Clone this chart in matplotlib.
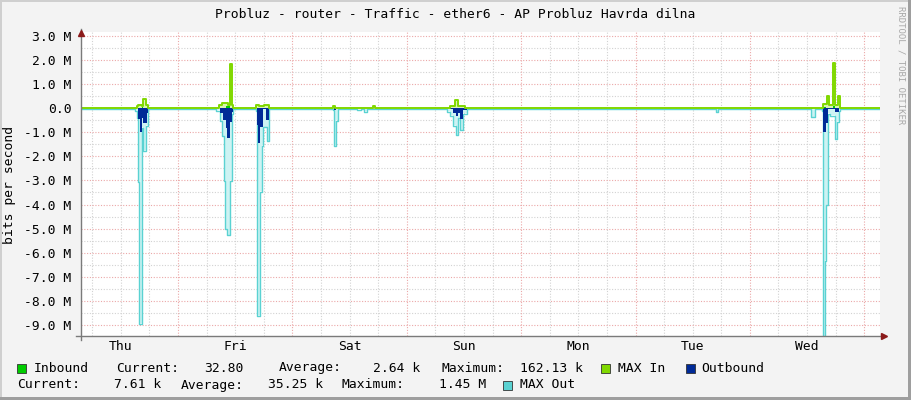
import matplotlib
matplotlib.use('Agg')
import matplotlib.pyplot as plt
import numpy as np
from matplotlib.patches import Rectangle
from matplotlib.lines import Line2D

W, H = 911, 400
MONO = 'DejaVu Sans Mono'

# ---------------- data ----------------
# time axis: hours since Thursday 00:00 ; values in Mbit/s (outbound negative)
t_start, t_end = 3.65, 171.3
day_names = ['Thu', 'Fri', 'Sat', 'Sun', 'Mon', 'Tue', 'Wed']
ytick_vals = [3, 2, 1, 0, -1, -2, -3, -4, -5, -6, -7, -8, -9]

max_out_t = [15.0, 15.31, 15.52, 15.8, 16.36, 16.7, 17.2, 17.62,
             32.0, 32.8, 33.15, 33.63, 33.84, 34.2, 34.89, 35.25, 35.52,
             40.45, 40.62, 41.18, 41.67, 41.87, 42.65, 43.2,
             56.5, 56.77, 57.06, 57.61,
             61.47, 62.37, 63.06, 63.57,
             80.35, 81.04, 81.74, 82.3, 82.66, 83.14, 83.83, 84.55,
             136.9, 137.4,
             156.92, 157.61,
             159.1, 159.36, 159.85, 160.07, 160.45, 160.77, 161.82, 162.3, 162.72, 163.01]
max_out_v = [-0.1, -0.4, -3.05, -8.9, -0.8, -1.75, -0.7, 0,
             -0.1, -0.5, -1.15, -3.0, -5.0, -5.25, -3.0, -0.2, 0,
             -0.1, -8.57, -3.45, -1.53, -0.77, -1.35, 0,
             -0.05, -1.55, -0.5, 0,
             -0.05, 0, -0.12, 0,
             -0.12, -0.3, -0.7, -1.1, -0.4, -0.9, -0.2, 0,
             -0.15, 0,
             -0.36, 0,
             -0.1, -9.6, -6.3, -4.0, -0.2, -0.3, -1.25, -0.55, -0.1, 0]

outbound_t = [15.52, 16.01, 16.36, 16.7, 17.41, 17.75,
              32.79, 33.48, 34.05, 34.32, 34.89, 35.25, 35.45,
              40.62, 40.83, 41.18, 41.75, 42.44, 43.01,
              56.77, 57.06,
              81.04, 81.74, 82.3, 82.66, 83.14, 83.83, 84.55,
              156.92, 157.3,
              159.36, 159.93, 160.41, 161.82, 162.72]
outbound_v = [-0.45, -1.0, -0.4, -0.63, -0.2, 0,
              -0.22, -0.5, -0.84, -1.25, -0.57, -0.15, 0,
              -0.7, -1.46, -0.8, -0.05, -0.5, 0,
              -0.1, 0,
              -0.05, -0.2, -0.35, -0.2, -0.45, -0.1, 0,
              -0.05, 0,
              -0.98, -0.62, -0.05, -0.15, 0]

max_in_t = [15.31, 15.52, 16.36, 16.7, 17.2, 17.62,
            32.64, 33.15, 34.47, 34.89, 35.31, 35.58,
            40.4, 41.0, 42.0, 43.1,
            56.5, 57.0,
            64.83, 65.31,
            81.04, 82.1, 82.66, 84.3,
            159.36, 160.2, 160.62, 161.46, 161.88, 162.44, 163.01]
max_in_v = [0.05, 0.12, 0.05, 0.37, 0.1, 0,
            0.1, 0.2, 0.1, 1.81, 0.1, 0,
            0.1, 0.05, 0.1, 0,
            0.05, 0,
            0.06, 0,
            0.08, 0.3, 0.08, 0,
            0.15, 0.47, 0.1, 1.85, 0.1, 0.47, 0]

inbound_t = [16.36, 16.7, 34.05, 34.89, 159.36, 159.93, 161.46, 161.88]
inbound_v = [0.05, 0, 0.1, 0, 0.06, 0, 0.1, 0]

legend_row1 = [('sq', 17, '#00CC00'), ('l', 34, 'Inbound'), ('l', 116, 'Current:'),
               ('r', 244, '32.80'), ('l', 279, 'Average:'), ('r', 420, '2.64 k'),
               ('l', 441, 'Maximum:'), ('r', 583, '162.13 k'), ('sq', 601, '#80D800'),
               ('l', 618, 'MAX In'), ('sq', 686, '#002A97'), ('l', 701, 'Outbound')]
legend_row2 = [('l', 17, 'Current:'), ('r', 161, '7.61 k'), ('l', 181, 'Average:'),
               ('r', 323, '35.25 k'), ('l', 342, 'Maximum:'), ('r', 486, '1.45 M'),
               ('sq', 503, '#5AD2D2'), ('l', 520, 'MAX Out')]

# ---------------- colours ----------------
C_IN = '#00CC00'
C_MAXIN = '#80D800'
C_MAXIN_FILL = '#D8F4B0'
C_OUT = '#002A97'
C_MAXOUT = '#5AD2D2'
C_MAXOUT_FILL = '#CDF3F3'

# ---------------- figure ----------------
fig = plt.figure(figsize=(W / 100, H / 100), dpi=100)
fig.patch.set_facecolor('#F3F3F3')


def fx(x):
    return x / W


def fy(y):
    return 1 - y / H


plot_top, plot_bot, plot_l, plot_r = 32, 336, 81, 880
zero_px = 108
px_per_M = 24.14
y_top = (zero_px - plot_top) / px_per_M
y_bot = -(plot_bot - zero_px) / px_per_M

ax = fig.add_axes([fx(plot_l), fy(plot_bot), (plot_r - plot_l) / W, (plot_bot - plot_top) / H])
ax.set_facecolor('white')
ax.set_xlim(t_start, t_end)
ax.set_ylim(y_bot, y_top)
for s in ax.spines.values():
    s.set_visible(False)

# grid
for v in np.arange(-9.0, 3.5, 0.5):
    if abs(v - round(v)) < 1e-6:
        ax.axhline(v, color='#EBA8A8', lw=0.8, dashes=(1, 1.5), zorder=0.5)
    else:
        ax.axhline(v, color='#D2D2D2', lw=0.8, dashes=(1, 1.5), zorder=0.4)
for h in range(6, 174, 6):
    if h % 24 == 0:
        ax.axvline(h, color='#EBA8A8', lw=0.8, dashes=(1, 1.5), zorder=0.5)
    else:
        ax.axvline(h, color='#D2D2D2', lw=0.8, dashes=(1, 1.5), zorder=0.4)


def series(ts, vs):
    t = np.concatenate([[t_start], np.asarray(ts, float), [t_end]])
    v = np.concatenate([[0.0], np.asarray(vs, float), [0.0]])
    return t, v


t, v = series(max_out_t, max_out_v)
ax.fill_between(t, v, 0, step='post', color=C_MAXOUT_FILL, lw=0, zorder=1)
ax.step(t, v - 0.03, where='post', color=C_MAXOUT, lw=1.0, zorder=2)

t, v = series(outbound_t, outbound_v)
ax.fill_between(t, v, 0, step='post', color=C_OUT, lw=0, zorder=3)

t, v = series(max_in_t, max_in_v)
ax.fill_between(t, v, 0, step='post', color=C_MAXIN_FILL, lw=0, zorder=3)

t2, v2 = series(inbound_t, inbound_v)
ax.fill_between(t2, v2, 0, step='post', color=C_IN, lw=0, zorder=4)

ax.step(t, v + 0.02, where='post', color=C_MAXIN, lw=1.4, zorder=5)

# ticks
ax.set_yticks(ytick_vals)
ax.set_yticklabels([('%.1f M' % y) if y != 0 else '0.0' for y in ytick_vals],
                   family=MONO, fontsize=9.4)
ax.set_xticks([12 + 24 * k for k in range(len(day_names))])
ax.set_xticklabels(day_names, family=MONO, fontsize=9.4)
ax.tick_params(axis='y', length=0, pad=7)
ax.tick_params(axis='x', length=0, pad=3)

# axes lines and arrows
fig.add_artist(Line2D([fx(plot_l), fx(plot_l)], [fy(340), fy(29)], color='#7A7A7A', lw=1.0))
fig.add_artist(Line2D([fx(76), fx(884)], [fy(plot_bot), fy(plot_bot)], color='#7A7A7A', lw=1.0))
fig.add_artist(Line2D([fx(plot_l)], [fy(33)], marker='^', color='#8B1A1A', markersize=4.5, lw=0))
fig.add_artist(Line2D([fx(884)], [fy(plot_bot)], marker='>', color='#8B1A1A', markersize=4.5, lw=0))

# texts
fig.text(fx(455.5), fy(15), 'Probluz - router - Traffic - ether6 - AP Probluz Havrda dilna',
         ha='center', va='center', family=MONO, fontsize=9.4)
fig.text(fx(10), fy(185), 'bits per second', rotation=90, ha='center', va='center',
         family=MONO, fontsize=9.4)
fig.text(fx(901), fy(6), 'RRDTOOL / TOBI OETIKER', rotation=270, ha='center', va='top',
         family=MONO, fontsize=6.5, color='#A8A8A8')


def draw_row(items, y):
    for kind, x, val in items:
        if kind == 'sq':
            fig.add_artist(Rectangle((fx(x), fy(y + 4.5)), 9 / W, 9 / H, facecolor=val,
                                     edgecolor='#333333', lw=0.6, transform=fig.transFigure))
        elif kind == 'l':
            fig.text(fx(x), fy(y), val, ha='left', va='center', family=MONO, fontsize=9.4)
        else:
            fig.text(fx(x), fy(y), val, ha='right', va='center', family=MONO, fontsize=9.4)


draw_row(legend_row1, 368)
draw_row(legend_row2, 385)

# 3D border
fig.add_artist(Rectangle((0, fy(2)), 1, 2 / H, facecolor='#CFCFCF', lw=0, transform=fig.transFigure))
fig.add_artist(Rectangle((0, 0), 2 / W, 1, facecolor='#CFCFCF', lw=0, transform=fig.transFigure))
fig.add_artist(Rectangle((fx(908), 0), 3 / W, 1, facecolor='#9E9E9E', lw=0, transform=fig.transFigure))
fig.add_artist(Rectangle((0, 0), 1, 3 / H, facecolor='#9E9E9E', lw=0, transform=fig.transFigure))

fig.savefig('out.png', dpi=100, facecolor=fig.get_facecolor())
